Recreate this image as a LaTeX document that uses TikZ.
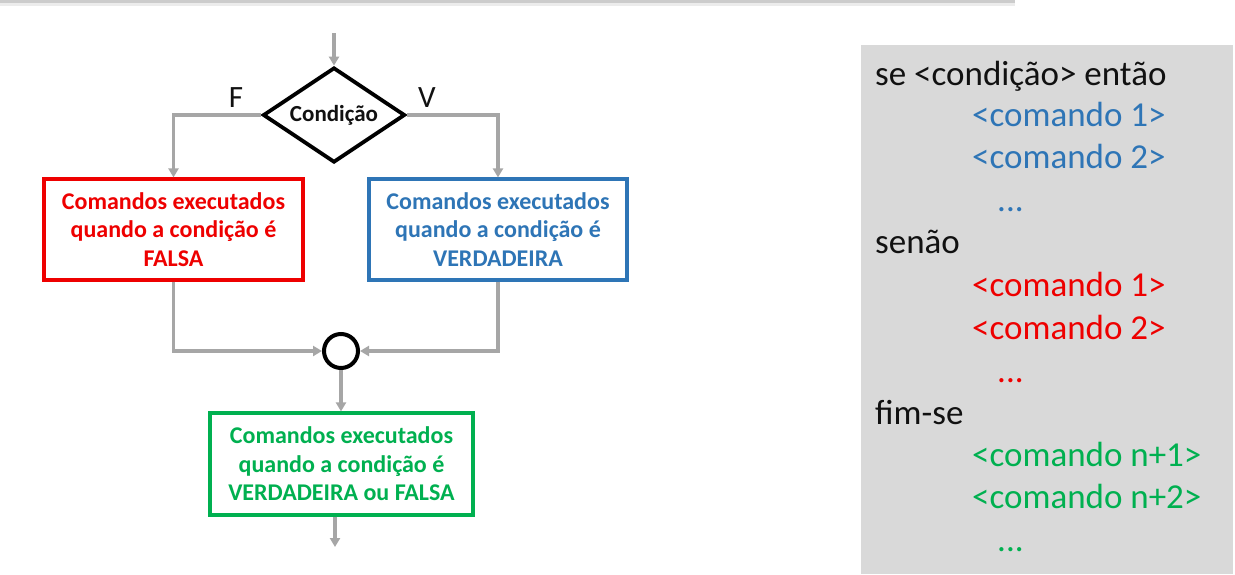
\documentclass[tikz,border=0pt]{standalone}
\usepackage{fontspec}
\setmainfont{Carlito}
\usetikzlibrary{shapes.geometric,arrows.meta}
\definecolor{cred}{HTML}{EE0000}
\definecolor{cblue}{HTML}{2E75B6}
\definecolor{cgreen}{HTML}{00B050}
\definecolor{cgray}{HTML}{A6A6A6}
\definecolor{panel}{HTML}{D9D9D9}
\definecolor{ink}{HTML}{111111}
\begin{document}
\begin{tikzpicture}[x=1pt,y=-1pt,
  conn/.style={draw=cgray,line width=3.2pt,-{Triangle[length=9pt,width=10pt]}},
  box/.style={rectangle,line width=3.2pt,fill=white,minimum height=101pt,inner sep=0pt,align=center,font=\fontsize{24}{28.5}\selectfont\bfseries},
  code/.style={anchor=base west,inner sep=0pt,font=\fontsize{35}{42}\selectfont},
  lbl/.style={anchor=base,inner sep=0pt,font=\fontsize{31}{34}\selectfont,text=ink},
]
\useasboundingbox (0,0) rectangle (1235,574);
\fill[white] (0,0) rectangle (1235,574);
% top bar
\fill[gray!15] (0,2.5) rectangle (1015,6);
\fill[gray!40] (0,0) rectangle (1015,2.8);
% panel
\fill[panel] (861,45) rectangle (1233,574);

% flowchart nodes
\node[diamond,shape aspect=1.6,draw=black,line width=3.8pt,minimum width=142pt,minimum height=95pt,inner sep=0pt,font=\fontsize{23}{28}\selectfont\bfseries,text=ink] (d) at (334,115) {Condição};
\node[lbl] (f) at (236,107.5) {F};
\node[lbl] (v) at (427,107.5) {V};
\node[box,draw=cred,text=cred,minimum width=259pt] (r) at (173.5,229.5) {Comandos executados\\quando a condição é\\FALSA};
\node[box,draw=cblue,text=cblue,minimum width=258pt] (b) at (498,229.5) {Comandos executados\\quando a condição é\\VERDADEIRA};
\node[circle,draw=black,line width=4pt,minimum size=34pt,inner sep=0pt] (c) at (341,351) {};
\node[box,draw=cgreen,text=cgreen,minimum width=263pt,minimum height=102pt] (g) at (341.5,464) {Comandos executados\\quando a condição é\\VERDADEIRA ou FALSA};
\coordinate (start) at (334,33);
\coordinate (end) at (335,547);

% connectors
\draw[conn] (start) -- (d.north);
\draw[conn] (d.west) -| (r.north);
\draw[conn] (d.east) -| (b.north);
\draw[conn] (r.south) |- (c.west);
\draw[conn] (b.south) |- (c.east);
\draw[conn] (c.south) -- (c.south |- g.north);
\draw[conn] (g.south -| end) -- (end);

% pseudocode
\node[code,text=ink] (l1) at (875,85) {se <condição> então};
\node[code,text=cblue] (l2) at (972,126) {<comando 1>};
\node[code,text=cblue] (l3) at (972,168) {<comando 2>};
\node[code,text=cblue] (l4) at (997,211) {...};
\node[code,text=ink] (l5) at (875,253) {senão};
\node[code,text=cred] (l6) at (972,296) {<comando 1>};
\node[code,text=cred] (l7) at (972,339) {<comando 2>};
\node[code,text=cred] (l8) at (997,382) {...};
\node[code,text=ink] (l9) at (875,424) {fim-se};
\node[code,text=cgreen] (l10) at (972,466) {<comando n+1>};
\node[code,text=cgreen] (l11) at (972,508) {<comando n+2>};
\node[code,text=cgreen] (l12) at (997,551) {...};
\end{tikzpicture}
\end{document}
